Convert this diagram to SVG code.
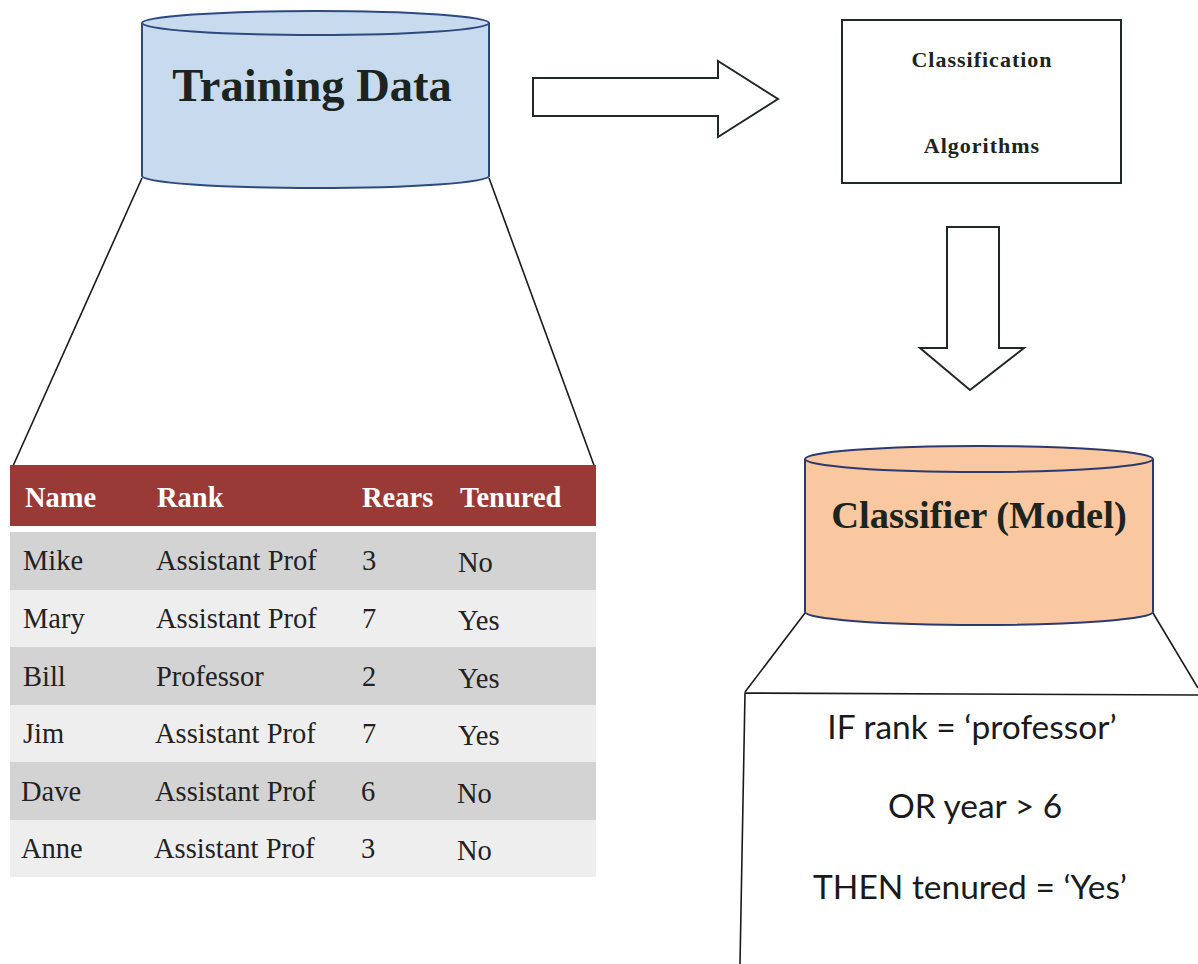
<svg xmlns="http://www.w3.org/2000/svg" width="1198" height="964" viewBox="0 0 1198 964">
<style>
.bg{fill:#ffffff}
.ln{fill:none;stroke:#1a1a1a;stroke-width:1.6}
.arrow{fill:#ffffff;stroke:#1f2a24;stroke-width:2;stroke-linejoin:miter}
.cylB{fill:#c8dbee;stroke:#2d4a80;stroke-width:2}
.cylO{fill:#f9c7a0;stroke:#2d3a6e;stroke-width:2}
.title{font-family:"Liberation Serif",serif;font-weight:bold;fill:#1c2420}
.hdr{font-family:"Liberation Serif",serif;font-weight:bold;font-size:28.5px;fill:#ffffff}
.cell{font-family:"Liberation Serif",serif;font-size:28.5px;fill:#222222}
.rule{font-family:"Lato","Open Sans",sans-serif;font-size:33.5px;fill:#1a1a1a;text-anchor:middle}
.algo{font-family:"Liberation Serif",serif;font-weight:bold;font-size:22px;letter-spacing:1px;fill:#1c2420;text-anchor:middle}
</style>
<rect class="bg" x="0" y="0" width="1198" height="964"/>

<g id="connectors">
  <line class="ln" x1="142" y1="178" x2="13" y2="466"/>
  <line class="ln" x1="489" y1="178" x2="595" y2="468"/>
  <line class="ln" x1="805" y1="613" x2="745" y2="692"/>
  <line class="ln" x1="1153" y1="613" x2="1198" y2="688"/>
  <path id="arrow-right" class="arrow" d="M533,78 L718,78 L718,61 L778,99 L718,137 L718,116 L533,116 Z"/>
  <path id="arrow-down" class="arrow" d="M947,227 L999,227 L999,348 L1024,348 L970,390 L920,348 L947,348 Z"/>
</g>

<g id="training-data">
  <path class="cylB" d="M142,23 V176 A173.5,12 0 0 0 489,176 V23"/>
  <ellipse class="cylB" cx="315.5" cy="23" rx="173.5" ry="12"/>
  <text class="title" x="312" y="101" font-size="46.5" text-anchor="middle">Training Data</text>
</g>

<g id="classification-algorithms">
  <rect x="842" y="20" width="279" height="163" fill="#ffffff" stroke="#1f2a24" stroke-width="2"/>
  <text class="algo" x="982" y="67">Classification</text>
  <text class="algo" x="982" y="153">Algorithms</text>
</g>

<g id="table">
  <rect x="10" y="465" width="586" height="61" fill="#9a3a36"/>
  <rect x="10" y="532" width="586" height="58" fill="#d3d3d3"/>
  <rect x="10" y="590" width="586" height="57" fill="#eeeeee"/>
  <rect x="10" y="647" width="586" height="58" fill="#d3d3d3"/>
  <rect x="10" y="705" width="586" height="57" fill="#eeeeee"/>
  <rect x="10" y="762" width="586" height="58" fill="#d3d3d3"/>
  <rect x="10" y="820" width="586" height="57" fill="#eeeeee"/>
  <text class="hdr" x="25" y="507">Name</text>
  <text class="hdr" x="157" y="507">Rank</text>
  <text class="hdr" x="362" y="507">Rears</text>
  <text class="hdr" x="460" y="507">Tenured</text>
  <text class="cell" x="23" y="570">Mike</text>
  <text class="cell" x="156" y="570">Assistant Prof</text>
  <text class="cell" x="362" y="570">3</text>
  <text class="cell" x="458" y="572">No</text>
  <text class="cell" x="23" y="628">Mary</text>
  <text class="cell" x="156" y="628">Assistant Prof</text>
  <text class="cell" x="362" y="628">7</text>
  <text class="cell" x="458" y="630">Yes</text>
  <text class="cell" x="23" y="686">Bill</text>
  <text class="cell" x="156" y="686">Professor</text>
  <text class="cell" x="362" y="686">2</text>
  <text class="cell" x="458" y="688">Yes</text>
  <text class="cell" x="23" y="743">Jim</text>
  <text class="cell" x="155" y="743">Assistant Prof</text>
  <text class="cell" x="362" y="743">7</text>
  <text class="cell" x="458" y="745">Yes</text>
  <text class="cell" x="21" y="801">Dave</text>
  <text class="cell" x="155" y="801">Assistant Prof</text>
  <text class="cell" x="361" y="801">6</text>
  <text class="cell" x="457" y="803">No</text>
  <text class="cell" x="21" y="858">Anne</text>
  <text class="cell" x="154" y="858">Assistant Prof</text>
  <text class="cell" x="361" y="858">3</text>
  <text class="cell" x="457" y="860">No</text>
</g>

<g id="classifier-model">
  <path class="cylO" d="M805,459 V612 A174,13 0 0 0 1153,612 V459"/>
  <ellipse class="cylO" cx="979" cy="459" rx="174" ry="13"/>
  <text class="title" x="979" y="528" font-size="38.5" text-anchor="middle">Classifier (Model)</text>
</g>

<g id="rule-box">
  <path class="ln" d="M740,964 L745,693 L1198,695"/>
  <text class="rule" x="972" y="739">IF rank = ‘professor’</text>
  <text class="rule" x="975" y="818">OR year &gt; 6</text>
  <text class="rule" x="970" y="899">THEN tenured = ‘Yes’</text>
</g>
</svg>
